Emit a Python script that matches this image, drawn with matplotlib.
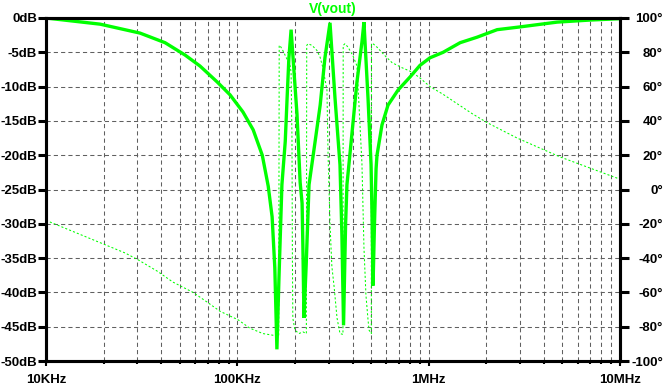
import numpy as np
import matplotlib.pyplot as plt
from matplotlib.ticker import FixedLocator, LogLocator, NullFormatter

plt.rcParams['font.family'] = ['Liberation Sans', 'DejaVu Sans']
plt.rcParams['font.weight'] = 'bold'

green = '#00ff00'

# magnitude trace (kHz, dB)
mag_freq_khz = [10, 19.2, 31.0, 41.9, 53.3, 63.8, 78.3, 91.6, 107, 121, 135, 145,
                152, 157, 161, 165, 171, 178, 182, 186, 191, 198, 205, 213, 218,
                220, 223, 229, 237, 255, 271, 287, 305, 324, 344, 352, 359, 368,
                374, 398, 422, 448, 459, 482, 500, 506, 512, 521, 531, 537, 570,
                613, 692, 799, 901, 1016, 1190, 1460, 1790, 2280, 3000, 4690,
                6970, 10000]
mag_db = [0, -0.9, -2.2, -3.6, -5.4, -7.0, -9.3, -11.2, -13.7, -16.3, -20, -24.5,
          -29, -36.4, -48.3, -38, -24.3, -18, -11.7, -5.8, -1.7, -8, -14, -24, -27,
          -33, -43.7, -36, -24.3, -18, -12.7, -5.8, -0.7, -11.7, -21.4, -31.6, -44.8, -30,
          -24.3, -16.6, -9.3, -3.5, -0.6, -11.7, -21.4, -29, -39, -30, -22, -20, -15.6,
          -12.7, -10.5, -8.6, -6.9, -5.8, -5.0, -3.6, -2.8, -1.7, -1.3, -0.6,
          -0.3, -0.1]

# phase trace (kHz, degrees)
phase_freq_khz = [10, 25.9, 30.3, 38.0, 46.1, 58.7, 69.4, 81.2, 101, 116, 136, 154,
                  164.5, 165.5, 167, 173, 180, 189, 191, 193, 194, 195, 200, 210,
                  220, 229.5, 230.5, 234, 246, 261, 271, 280, 294, 298, 305, 312,
                  320, 332, 344, 356.5, 357.5, 365, 379, 402, 422, 432, 448, 459,
                  470, 482, 488, 501.5, 502.5, 512, 537, 591, 643, 726, 818, 901,
                  1016, 1190, 1410, 1700, 2020, 2570, 2900, 4860, 10000]
phase_deg = [-18, -37, -41, -47.5, -54, -60, -65.6, -71, -76, -80.8, -84, -85,
             -85.5, 84, 84, 81, 77, 72, 68, 30, -40, -75, -82, -84,
             -83, -84, 84, 85, 84, 81, 77, 71, 58, 20, -20, -45,
             -56, -75, -84, -84.5, 84, 85, 83, 78, 72, 50, 15, -34,
             -61.5, -76, -82, -84, 85, 85, 83, 78, 74, 71, 68.5, 65,
             60, 55.5, 50, 44, 39, 33, 30, 19, 6]

db_ticks = list(range(0, -55, -5))
db_labels = [f'{t}dB' for t in db_ticks]
deg_ticks = list(range(100, -120, -20))
deg_labels = [f'{t}°' for t in deg_ticks]
freq_ticks = [1e4, 1e5, 1e6, 1e7]
freq_labels = ['10KHz', '100KHz', '1MHz', '10MHz']

fig = plt.figure(figsize=(6.69, 3.87), dpi=100)
fig.patch.set_facecolor('white')
ax = fig.add_axes([46 / 669, 26 / 387, 574 / 669, 343 / 387])
ax.set_xscale('log')
ax.set_xlim(1e4, 1e7)
ax.set_ylim(-50, 0)

ax.xaxis.set_major_locator(FixedLocator(freq_ticks))
ax.set_xticklabels(freq_labels)
ax.xaxis.set_minor_locator(LogLocator(base=10, subs=np.arange(2, 10)))
ax.xaxis.set_minor_formatter(NullFormatter())
ax.yaxis.set_major_locator(FixedLocator(db_ticks))
ax.set_yticklabels(db_labels)

grid_kw = dict(color='#606060', linewidth=0.75, linestyle=(0, (4, 3)))
ax.grid(True, which='both', axis='x', **grid_kw)
ax.grid(True, which='major', axis='y', **grid_kw)
ax.set_axisbelow(True)

ax.tick_params(axis='x', which='major', direction='out', length=3.6, width=1.5,
               labelsize=9.5, pad=6, colors='black')
ax.tick_params(axis='x', which='minor', direction='out', length=2.2, width=1.5)
ax.tick_params(axis='y', which='major', direction='out', length=5.8, width=2.2,
               labelsize=9.5, pad=0.5)

for s in ax.spines.values():
    s.set_linewidth(2.2)
    s.set_color('black')

ax.plot(np.array(mag_freq_khz) * 1e3, mag_db, color=green, linewidth=2.4,
        solid_joinstyle='miter', zorder=3)

ax2 = ax.twinx()
ax2.set_ylim(-100, 100)
ax2.yaxis.set_major_locator(FixedLocator(deg_ticks))
ax2.set_yticklabels(deg_labels)
ax2.tick_params(axis='y', which='major', direction='out', length=6.5, width=2.2,
                labelsize=9.5, pad=24.5)
for lab in ax2.get_yticklabels():
    lab.set_horizontalalignment('right')
for s in ax2.spines.values():
    s.set_linewidth(2.2)
ax2.plot(np.array(phase_freq_khz) * 1e3, phase_deg, color=green, linewidth=0.75,
         linestyle=(0, (2, 2)), zorder=2)

fig.text(333 / 669, 1 - 9 / 387, 'V(vout)', color=green, fontsize=10,
         fontweight='bold', ha='center', va='center')

fig.savefig('out.png', dpi=100, facecolor='white')
